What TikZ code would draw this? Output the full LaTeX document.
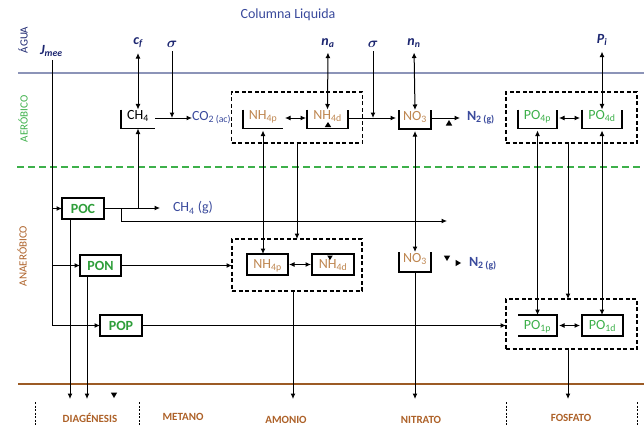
\documentclass[tikz,border=0pt]{standalone}
\usepackage{fontspec}
\setmainfont{Carlito}
\usepackage{bm}
\usetikzlibrary{arrows.meta}
\definecolor{navy}{HTML}{1C2670}
\definecolor{gasblue}{HTML}{3A4A9C}
\definecolor{grn}{HTML}{2E9E3A}
\definecolor{lgrn}{HTML}{3DB04A}
\definecolor{tanc}{HTML}{BE8650}
\definecolor{brn}{HTML}{AD6128}
\definecolor{waterline}{HTML}{8C94B8}
\definecolor{sedline}{HTML}{9C5B25}
\begin{document}
\begin{tikzpicture}[x=1pt,y=-1pt,
  every node/.style={inner sep=0pt, outer sep=0pt},
  lbl/.style={font=\fontsize{14}{15}\selectfont\bfseries\itshape, text=navy},
  sig/.style={font=\fontsize{15}{16}\selectfont, text=navy},
  gas/.style={font=\fontsize{14}{15}\selectfont, text=gasblue},
  tip/.style={-{Latex[length=5.5pt,width=5pt]}},
  dtip/.style={{Latex[length=5.5pt,width=5pt]}-{Latex[length=5.5pt,width=5pt]}},
  conn/.style={draw=black, line width=1pt},
  bkt/.style={minimum width=40pt, minimum height=19pt, text height=6pt, text depth=5pt, font=\fontsize{14}{15}\selectfont},
  pbox/.style={draw, line width=1.1pt, minimum width=42pt, minimum height=21pt, font=\fontsize{14}{15}\selectfont\bfseries, text=grn},
  rbox/.style={draw, line width=1.1pt, minimum width=41pt, minimum height=21pt, text height=9pt, text depth=1pt, font=\fontsize{14}{15}\selectfont},
  bline/.style={line width=1.1pt},
  grp/.style={draw, line width=1.2pt, dash pattern=on 4pt off 2.5pt},
  side/.style={rotate=90, font=\fontsize{11}{12}\selectfont},
  bot/.style={font=\fontsize{11}{12}\selectfont\bfseries, text=brn},
  sep/.style={draw, line width=0.9pt, dash pattern=on 2pt off 1.5pt},
]
\useasboundingbox (0,0) rectangle (644,425);

% title and layer labels
\node[font=\fontsize{14}{15}\selectfont, text=gasblue] (title) at (288,15) {Columna Liquida};
\node[side, text=navy] (agua) at (23,40) {ÁGUA};
\node[side, text=lgrn] (aer) at (23,119) {AERÓBICO};
\node[side, text=brn] (anaer) at (22,256) {ANAERÓBICO};

% layer boundaries
\draw[waterline, line width=2pt] (18,73) -- (644,73);
\draw[lgrn, line width=2pt, dash pattern=on 7pt off 4pt] (17,167) -- (644,167);
\draw[sedline, line width=2.5pt] (18,384) -- (644,384);

% water-column fluxes
\node[lbl, anchor=west] (jmee) at (40,51) {J\textsubscript{mee}};
\node[lbl] (cf) at (138,43) {c\textsubscript{f}};
\node[sig] (sig1) at (172,44) {$\bm{\sigma}$};
\node[lbl] (na) at (328,43) {n\textsubscript{a}};
\node[sig] (sig2) at (373,44) {$\bm{\sigma}$};
\node[lbl] (nn) at (414,43) {n\textsubscript{n}};
\node[lbl] (pi) at (602,40) {P\textsubscript{i}};

% aerobic layer
\node[bkt, minimum width=34pt, text=black] (ch4) at (138,119) {CH\textsubscript{4}};
\draw[bline] (ch4.north west) -- (ch4.south west) -- (ch4.south east);
\node[gas, anchor=west] (co2) at (192,118) {CO\textsubscript{2 (ac)}};

\node[grp, minimum width=131pt, minimum height=51pt] (gna) at (297,117.5) {};
\node[bkt, text=tanc] (nh4p) at (263,119) {NH\textsubscript{4p}};
\draw[bline] (nh4p.north west) -- (nh4p.south west) -- (nh4p.south east);
\node[bkt, minimum width=41pt, text=tanc] (nh4d) at (327.5,119) {NH\textsubscript{4d}};
\draw[bline] (nh4d.north west) -- (nh4d.south west) -- (nh4d.south east) -- (nh4d.north east);

\node[bkt, minimum width=32pt, text=tanc] (no3a) at (415,119.5) {NO\textsubscript{3}};
\draw[bline] (no3a.north west) -- (no3a.south west) -- (no3a.south east) -- (no3a.north east);
\node[gas, font=\fontsize{14}{15}\selectfont\bfseries, anchor=west] (n2a) at (467,118) {N\textsubscript{2 (g)}};

\node[grp, minimum width=131pt, minimum height=51pt] (gpa) at (571.5,117.5) {};
\node[bkt, minimum width=39pt, text=lgrn] (po4p) at (537.5,119) {PO\textsubscript{4p}};
\draw[bline] (po4p.north west) -- (po4p.south west) -- (po4p.south east) -- (po4p.north east);
\node[bkt, text=lgrn] (po4d) at (602,119) {PO\textsubscript{4d}};
\draw[bline] (po4d.north west) -- (po4d.south west) -- (po4d.south east) -- (po4d.north east);

% anaerobic layer
\node[pbox] (poc) at (83,208.5) {POC};
\node[pbox, minimum width=41pt] (pon) at (100.5,265.5) {PON};
\node[pbox] (pop) at (121,325.5) {POP};
\node[gas, anchor=west] (ch4g) at (173,208) {CH\textsubscript{4} (g)};

\node[grp, minimum width=130pt, minimum height=52pt] (gnb) at (297,265) {};
\node[rbox, text=tanc] (nh4l) at (267.5,264.5) {NH\textsubscript{4p}};
\node[rbox, minimum width=42pt, text=tanc] (nh4r) at (333,264.5) {NH\textsubscript{4d}};

\node[bkt, minimum width=32pt, minimum height=20pt, text=tanc] (no3b) at (415,262) {NO\textsubscript{3}};
\draw[bline] (no3b.north west) -- (no3b.south west) -- (no3b.south east) -- (no3b.north east);
\node[gas, font=\fontsize{14}{15}\selectfont\bfseries, anchor=west] (n2b) at (469,264) {N\textsubscript{2 (g)}};

\node[grp, minimum width=131pt, minimum height=50pt] (gpb) at (571.5,324) {};
\node[bkt, minimum width=39pt, minimum height=21pt, text height=9pt, text depth=1pt, text=lgrn] (po1p) at (537.5,325.5) {PO\textsubscript{1p}};
\draw[bline] (po1p.north west) -- (po1p.north east) -- (po1p.south east) -- (po1p.south west);
\node[rbox, text=lgrn] (po1d) at (602.5,325.5) {PO\textsubscript{1d}};

% bottom labels
\node[bot] (dia) at (90,418) {DIAGÉNESIS};
\node[bot] (met) at (183,417) {METANO};
\node[bot] (amo) at (286,420) {AMONIO};
\node[bot] (nit) at (421,420) {NITRATO};
\node[bot] (fos) at (571,418) {FOSFATO};
\draw[sep] (35,402) -- (35,425);
\draw[sep] (139,402) -- (139,425);
\draw[sep] (506,402) -- (506,425);
\draw[sep] (637,402) -- (637,425);

% coordinates
\coordinate (jtop) at (52,60);
\coordinate (ch4gin) at (160,208);
\coordinate (br) at (121,208);
\coordinate (pend) at (447,221);
\coordinate (cv) at (138,208);
\coordinate (dpoc) at (70,399);
\coordinate (dpon) at (87,399);
\coordinate (damo) at (293,399);
\coordinate (dnit) at (415,399);
\coordinate (dfos) at (568,399);
\coordinate (n2ain) at (460,118);
\coordinate (no3ain) at (396,118);

% connectors: water column
\draw[conn,dtip,shorten <=5pt] (cf.south) -- (ch4.north);
\draw[conn,tip,shorten <=4pt] (sig1.south) -- (sig1.south |- co2.west);
\draw[conn,dtip,shorten <=5pt] (na.south) -- (nh4d.north);
\draw[conn,tip,shorten <=4pt] (sig2.south) -- (sig2.south |- co2.west);
\draw[conn,dtip,shorten <=5pt] (nn.south) -- (no3a.north);
\draw[conn,dtip,shorten <=6pt] (pi.south) -- (po4d.north);

% connectors: aerobic
\draw[conn,tip] (ch4.east |- co2.west) -- (co2.west);
\draw[conn,dtip,shorten <=2pt,shorten >=1pt] (nh4p.east |- co2.west) -- (nh4d.west |- co2.west);
\draw[conn,tip] (nh4d.east |- co2.west) -- (no3ain);
\draw[conn,tip] (no3a.east |- co2.west) -- (n2ain);
\draw[conn,dtip,shorten <=2pt,shorten >=2pt] (po4p.east |- co2.west) -- (po4d.west |- co2.west);

% connectors: aerobic <-> anaerobic
\draw[conn,dtip,shorten <=2pt] (nh4p.south) -- (nh4p.south |- nh4l.north);
\draw[conn,tip] (gna.south) -- (gnb.north);
\draw[conn,dtip,shorten <=2pt] (no3a.south) -- (no3b.north);
\draw[conn,dtip,shorten <=2pt] (po4p.south) -- (po4p.south |- po1p.north);
\draw[conn,tip] (gpa.south -| dfos) -- (gpb.north -| dfos);
\draw[conn,dtip,shorten <=2pt] (po4d.south) -- (po4d.south |- po1d.north);

% connectors: anaerobic
\draw[conn] (jtop) -- (jtop |- pop.west);
\draw[conn,tip] (jtop |- poc.west) -- (poc.west);
\draw[conn,tip] (jtop |- pon.west) -- (pon.west);
\draw[conn,tip] (jtop |- pop.west) -- (pop.west);
\draw[conn,tip] (poc.east |- ch4gin) -- (ch4gin);
\draw[conn,tip] (br) |- (pend);
\draw[conn,tip] (cv) -- (ch4.south -| cv);
\draw[conn,tip] (pon.east) -- (pon.east -| gnb.west);
\draw[conn,dtip,shorten <=1pt,shorten >=1pt] (nh4l.east) -- (nh4r.west);
\draw[conn,tip] (pop.east) -- (pop.east -| gpb.west);
\draw[conn,dtip,shorten <=2pt,shorten >=2pt] (po1p.east) -- (po1d.west);

% connectors: to diagenesis
\draw[conn,tip] (poc.south -| dpoc) -- (dpoc);
\draw[conn,tip] (pon.south -| dpon) -- (dpon);
\draw[conn,tip] (gnb.south -| damo) -- (damo);
\draw[conn,tip] (no3b.south) -- (dnit);
\draw[conn,tip] (gpb.south -| dfos) -- (dfos);

% lone arrow tips
\fill (328,122) -- (324.8,127) -- (331.2,127) -- cycle;
\fill (449,120) -- (445.8,125.5) -- (452.2,125.5) -- cycle;
\fill (330,260) -- (327.2,255.5) -- (332.8,255.5) -- cycle;
\fill (447,261) -- (443.8,255.5) -- (450.2,255.5) -- cycle;
\fill (461,263) -- (455.5,259.8) -- (455.5,266.2) -- cycle;
\fill (114,398) -- (110.8,392.5) -- (117.2,392.5) -- cycle;
\end{tikzpicture}
\end{document}
